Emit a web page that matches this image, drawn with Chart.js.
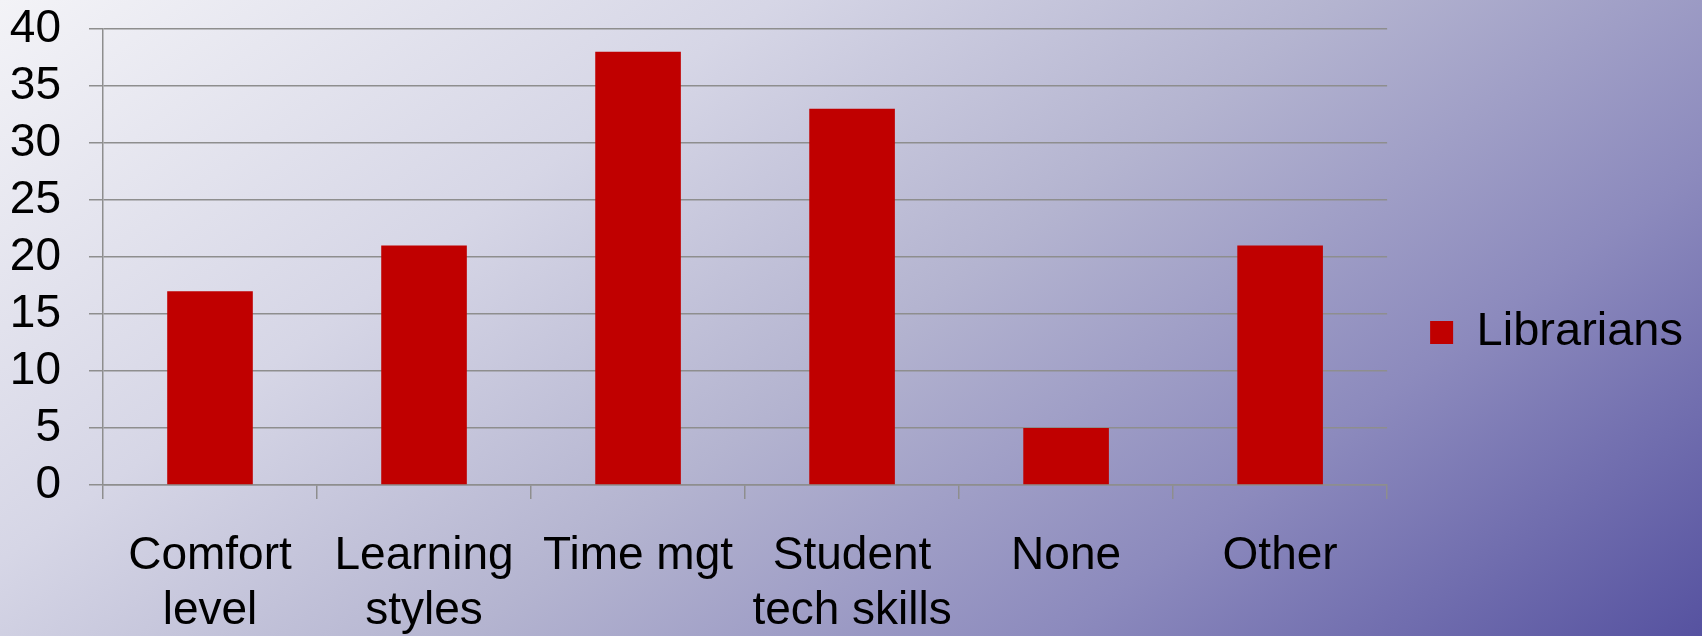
<!DOCTYPE html>
<html>
<head>
<meta charset="utf-8">
<script src="https://cdn.jsdelivr.net/npm/chart.js@4/dist/chart.umd.min.js"></script>
<style>
  html, body { margin: 0; padding: 0; }
  body {
    width: 1702px; height: 636px; overflow: hidden;
    background: linear-gradient(144deg, #f3f3f7 0%, #d6d6e6 30%, #b4b4d0 52%, #8c8abd 75%, #5652a0 100%);
  }
  canvas { display: block; }
</style>
</head>
<body>
<canvas id="chart" width="1702" height="636"></canvas>
<script>
// data
const categories = [['Comfort', 'level'], ['Learning', 'styles'], ['Time mgt'], ['Student', 'tech skills'], ['None'], ['Other']];
const seriesName = 'Librarians';
const librarians = [17, 21, 38, 33, 5, 21];
const yTicks = [0, 5, 10, 15, 20, 25, 30, 35, 40];

const gridColor = '#8e8e8e';
const font = { family: '"Liberation Sans", Arial, sans-serif', size: 46 };

const ctx = document.getElementById('chart').getContext('2d');
new Chart(ctx, {
    type: 'bar',
    data: {
        labels: categories,
        datasets: [{
            label: seriesName,
            data: librarians,
            backgroundColor: '#c00000',
            borderWidth: 0,
            barPercentage: 0.4,
            categoryPercentage: 1
        }]
    },
    options: {
        responsive: false,
        animation: false,
        layout: { padding: { top: 29, right: 9, bottom: 0, left: 0 } },
        plugins: {
            tooltip: { enabled: false },
            legend: {
                position: 'right',
                labels: {
                    color: '#000',
                    font: { family: font.family, size: 47 },
                    boxWidth: 23,
                    boxHeight: 23,
                    padding: 43
                }
            }
        },
        scales: {
            x: {
                grid: {
                    drawOnChartArea: false,
                    drawTicks: true,
                    tickLength: 14,
                    color: gridColor,
                    lineWidth: 1.5,
                    offset: true
                },
                border: { color: gridColor, width: 1.5 },
                ticks: { color: '#000', font: font, padding: 30, maxRotation: 0, autoSkip: false },
                afterFit: scale => { scale.height = 151; }
            },
            y: {
                min: 0,
                max: 40,
                afterBuildTicks: scale => { scale.ticks = yTicks.map(v => ({ value: v })); },
                grid: { color: gridColor, lineWidth: 1.5, tickLength: 14, drawTicks: true },
                border: { color: gridColor, width: 1.5 },
                ticks: { color: '#000', font: font, padding: 28, autoSkip: false },
                afterFit: scale => {
                    scale.width = 103;
                    scale.paddingTop = 0;
                    scale.paddingBottom = 0;
                }
            }
        }
    }
});
</script>
</body>
</html>
